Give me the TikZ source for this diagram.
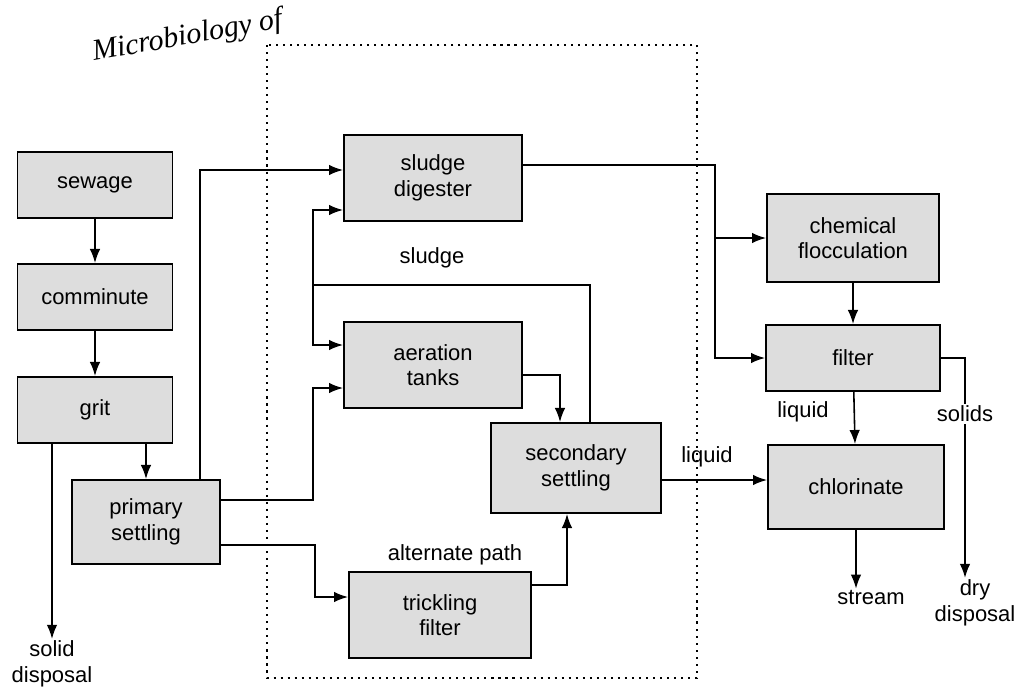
\documentclass[tikz,border=0pt]{standalone}
\usepackage{fontspec}
\setmainfont{Liberation Sans}
\newfontfamily\headfont{Liberation Serif}
\usetikzlibrary{arrows.meta}

\tikzset{
  box/.style={draw, line width=1.1pt, fill=gray!27, align=center, inner sep=2pt,
    font=\fontsize{12.5}{14.5}\selectfont},
  arr/.style={-{Latex[length=8pt,width=6pt]}, line width=0.9pt},
  wire/.style={line width=0.9pt},
  lbl/.style={align=center, inner sep=1pt, font=\fontsize{12.5}{14.5}\selectfont},
}

\begin{document}
\begin{tikzpicture}[x=0.02cm, y=-0.02cm]
  \useasboundingbox (0,0) rectangle (1024,696);
  \clip (0,0) rectangle (1024,696);

  % Cabecera de la pagina
  \node[rotate=10, anchor=base west, font=\headfont\itshape\fontsize{17}{19}\selectfont] (head) at (88,62) {Microbiology of};

  % Recuadro punteado
  \draw[line width=1pt, dash pattern=on 1.2pt off 2.8pt] (267,45) rectangle (697,678);

  % Pretratamiento
  \node[box, minimum width=3.1cm, minimum height=1.32cm] (sew) at (95,185) {sewage};
  \node[box, minimum width=3.1cm, minimum height=1.32cm] (com) at (95,297) {comminute};
  \node[box, minimum width=3.1cm, minimum height=1.32cm] (grit) at (95,410) {grit};
  \node[box, minimum width=2.96cm, minimum height=1.68cm] (prim) at (146,522) {primary\\settling};

  % Tratamiento secundario
  \node[box, minimum width=3.56cm, minimum height=1.72cm] (dig) at (433,178) {sludge\\digester};
  \node[box, minimum width=3.56cm, minimum height=1.72cm] (aer) at (433,365) {aeration\\tanks};
  \node[box, minimum width=3.4cm, minimum height=1.8cm] (sec) at (576,468) {secondary\\settling};
  \node[box, minimum width=3.64cm, minimum height=1.72cm] (tri) at (440,615) {trickling\\filter};

  % Tratamiento final
  \node[box, minimum width=3.44cm, minimum height=1.76cm] (chem) at (853,238) {chemical\\flocculation};
  \node[box, minimum width=3.48cm, minimum height=1.32cm] (filt) at (853,358) {filter};
  \node[box, minimum width=3.52cm, minimum height=1.68cm] (chl) at (856,487) {chlorinate};

  % Etiquetas
  \node[lbl] (soldisp) at (52,664) {solid\\disposal};
  \node[lbl] (sludgelbl) at (432,258) {sludge};
  \node[lbl] (altlbl) at (455,555) {alternate path};
  \node[lbl] (liqa) at (707,457) {liquid};
  \node[lbl] (liqb) at (803,412) {liquid};
  \node[lbl] (sollbl) at (965,414) {solids};
  \node[lbl] (stream) at (871,598) {stream};
  \node[lbl] (drydisp) at (975,603) {dry\\disposal};

  % Puntos de paso
  \coordinate (up1) at (200,170);
  \coordinate (ret) at (313,285);
  \coordinate (rsec) at (590,0);
  \coordinate (rdig) at (313,210);
  \coordinate (raer) at (313,345);
  \coordinate (pa0) at (0,500);
  \coordinate (pa1) at (313,388);
  \coordinate (pt0) at (0,545);
  \coordinate (pt1) at (315,597);
  \coordinate (ts) at (567,585);
  \coordinate (as) at (560,375);
  \coordinate (sc) at (0,480);
  \coordinate (df) at (715,165);

  % Flechas
  \draw[arr] (sew) -- (com);
  \draw[arr] (com) -- (grit);
  \draw[arr] (grit.south -| prim.north) -- (prim.north);
  \draw[arr] (grit.south -| soldisp.north) -- (soldisp.north);

  \draw[arr] (prim.north -| up1) |- (dig.west |- up1);
  \draw[arr] (prim.east |- pa0) -| (pa1) -- (aer.west |- pa1);
  \draw[arr] (prim.east |- pt0) -| (pt1) -- (tri.west |- pt1);

  \draw[wire] (sec.north -| rsec) |- (ret);
  \draw[arr] (ret) |- (dig.west |- rdig);
  \draw[arr] (ret) |- (aer.west |- raer);

  \draw[arr] (aer.east |- as) -| (sec.north -| as);
  \draw[arr] (tri.east |- ts) -| (sec.south -| ts);
  \draw[arr] (sec.east |- sc) -- (chl.west |- sc);

  \draw[arr] (dig.east |- df) -- (df) |- (chem.west);
  \draw[arr] (df) |- (filt.west);
  \draw[arr] (chem) -- (filt);
  \draw[arr] (filt) -- (chl);
  \draw[wire] (filt.east) -| (sollbl.north);
  \draw[arr] (sollbl.south) -- (sollbl.south |- drydisp.north);
  \draw[arr] (chl.south) -- (chl.south |- stream.north);

\end{tikzpicture}
\end{document}
